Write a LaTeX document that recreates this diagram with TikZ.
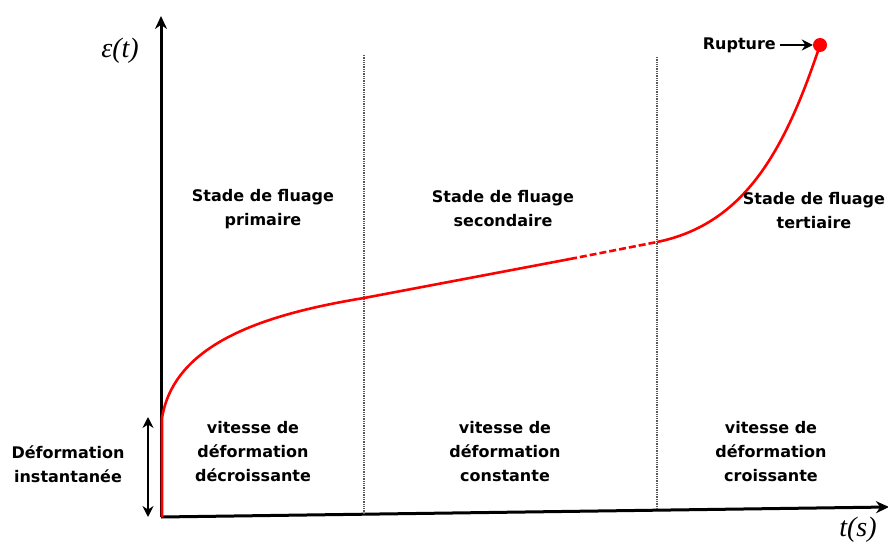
\documentclass[tikz,border=0pt]{standalone}
\usepackage{fontspec}
\setmainfont{DejaVu Sans}
\newfontfamily\timesf{Liberation Serif}
\usetikzlibrary{arrows.meta}
\begin{document}
\begin{tikzpicture}[x=1pt,y=-1pt,
  >={Stealth[length=11pt,width=11pt]},
  lbl/.style={font={\fontsize{16}{24}\selectfont\bfseries}, align=center, inner sep=0pt},
  axis/.style={line width=3pt, -{Stealth[length=13pt,width=12pt]}},
  sep/.style={black!65, dash pattern=on 1.3pt off 1pt, line width=1.6pt},
  creep/.style={red, line width=2.6pt},
  mathlbl/.style={inner sep=0pt, font={\fontsize{28}{28}\selectfont\timesf\itshape}}]
\useasboundingbox (0,0) rectangle (888,545);
% axes
\coordinate (O) at (161,517);
\coordinate (ytop) at (161,16);
\coordinate (xend) at (889,507);
\draw[axis] (O) -- (ytop);
\draw[axis] (O) -- (xend);
% separators
\coordinate (s1t) at (364,55);
\coordinate (s1b) at (364,515);
\coordinate (s2t) at (657,57);
\coordinate (s2b) at (657,510);
\draw[sep] (s1t) -- (s1b);
\draw[sep] (s2t) -- (s2b);
% curve
\coordinate (c0) at (162,517);
\coordinate (c1) at (162,418);
\coordinate (c2) at (364,298);
\coordinate (c3) at (570,259);
\coordinate (c4) at (657,242);
\draw[creep] (c0) -- (c1) .. controls (174,345) and (260,315) .. (c2) -- (c3);
\draw[creep, dash pattern=on 7pt off 3pt] (c3) -- (c4);
\node[circle, fill=red, inner sep=0pt, minimum size=14pt] (rup) at (820,45) {};
\draw[creep] (c4) .. controls (745,224) and (785,150) .. (rup.center);
% rupture label
\node[lbl, anchor=east] (rupt) at (776,45) {Rupture};
\draw[line width=2.4pt, ->] (rupt.east) ++(4pt,0) coordinate (ra) (ra) -- (rup.west);
% instant deformation arrow
\coordinate (da) at (148,417);
\coordinate (db) at (148,517);
\draw[line width=2.4pt, <->] (da) -- (db);
\node[lbl] (inst) at (68,464) {Déformation\\instantanée};
% axis labels
\node[mathlbl] (eps) at (120,51) {ε(t)};
\node[mathlbl] (ts) at (858,530) {t(s)};
% stage labels
\node[lbl] (st1) at (263,209) {Stade de fluage\\primaire};
\node[lbl] (st2) at (503,209) {Stade de fluage\\secondaire};
\node[lbl] (st3) at (814,211) {Stade de fluage\\tertiaire};
\node[lbl] (v1) at (253,452) {vitesse de\\déformation\\décroissante};
\node[lbl] (v2) at (505,452) {vitesse de\\déformation\\constante};
\node[lbl] (v3) at (771,452) {vitesse de\\déformation\\croissante};
\end{tikzpicture}
\end{document}
